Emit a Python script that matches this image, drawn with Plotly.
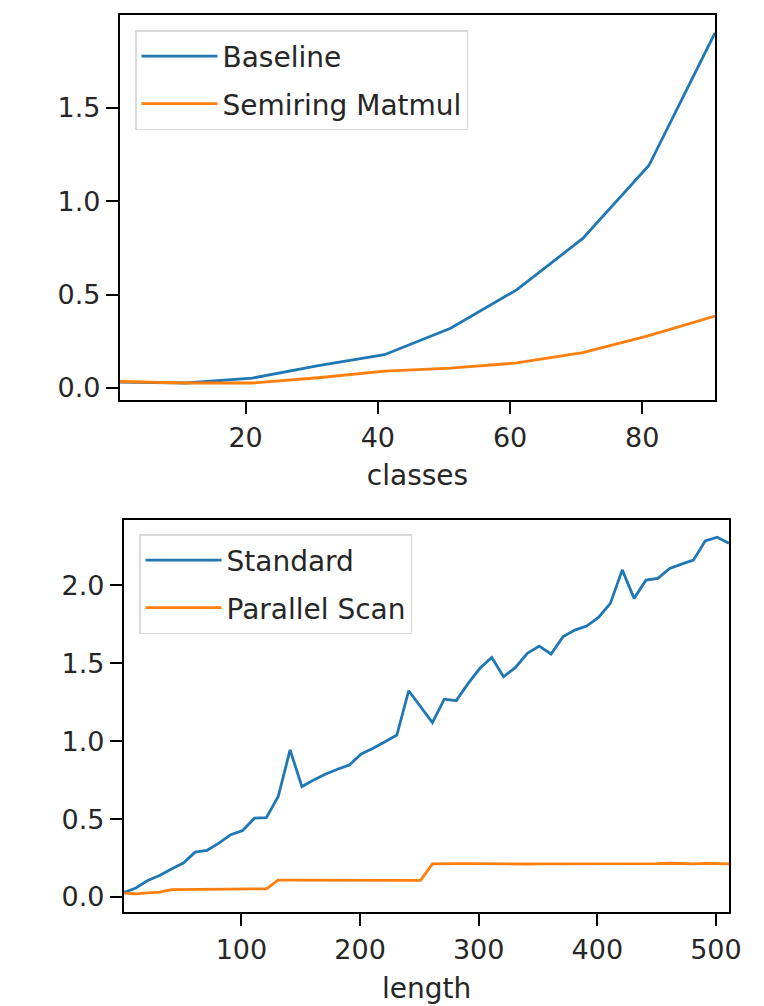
import plotly.graph_objects as go

# ---- data ----
classes = [1, 11, 21, 31, 41, 51, 61, 71, 81, 91]
baseline = [0.032, 0.027, 0.053, 0.12, 0.178, 0.32, 0.525, 0.80, 1.19, 1.90]
semiring = [0.035, 0.027, 0.027, 0.055, 0.09, 0.107, 0.134, 0.19, 0.28, 0.385]

length = list(range(1, 512, 10))
standard = [0.03, 0.058, 0.106, 0.138, 0.18, 0.218, 0.288, 0.30, 0.346, 0.40,
            0.427, 0.506, 0.51, 0.645, 0.944, 0.709, 0.752, 0.79, 0.82, 0.848,
            0.919, 0.955, 0.997, 1.04, 1.324, 1.22, 1.12, 1.27, 1.26, 1.37,
            1.468, 1.538, 1.414, 1.474, 1.564, 1.611, 1.56, 1.67, 1.713, 1.739,
            1.795, 1.885, 2.10, 1.917, 2.034, 2.045, 2.109, 2.137, 2.162, 2.286,
            2.31, 2.27]
parallel = [0.025, 0.02, 0.027, 0.032, 0.047, 0.048, 0.048, 0.053, 0.053, 0.054,
            0.053, 0.053, 0.053, 0.108, 0.108, 0.108, 0.108, 0.109, 0.111, 0.108,
            0.108, 0.108, 0.108, 0.107, 0.107, 0.107, 0.213, 0.215, 0.215, 0.214,
            0.213, 0.212, 0.211, 0.211, 0.212, 0.213, 0.213, 0.213, 0.213, 0.213,
            0.212, 0.212, 0.212, 0.212, 0.213, 0.214, 0.217, 0.214, 0.213, 0.216,
            0.214, 0.213]

top_xticks = [20, 40, 60, 80]
top_yticks = [0.0, 0.5, 1.0, 1.5]
bot_xticks = [100, 200, 300, 400, 500]
bot_yticks = [0.0, 0.5, 1.0, 1.5, 2.0]

BLUE = "#1f77b4"
ORANGE = "#ff7f0e"
FONT = "DejaVu Sans"
TXT = "#262626"
W, H = 764, 1006

fig = go.Figure()
fig.add_trace(go.Scatter(x=classes, y=baseline, mode="lines", name="Baseline",
                         line=dict(color=BLUE, width=2.8), xaxis="x", yaxis="y",
                         legend="legend", legendgroup="a"))
fig.add_trace(go.Scatter(x=classes, y=semiring, mode="lines", name="Semiring Matmul",
                         line=dict(color=ORANGE, width=2.8), xaxis="x", yaxis="y",
                         legend="legend", legendgroup="b"))
fig.add_trace(go.Scatter(x=length, y=standard, mode="lines", name="Standard",
                         line=dict(color=BLUE, width=2.8), xaxis="x2", yaxis="y2",
                         legend="legend2", legendgroup="c"))
fig.add_trace(go.Scatter(x=length, y=parallel, mode="lines", name="Parallel Scan",
                         line=dict(color=ORANGE, width=2.8), xaxis="x2", yaxis="y2",
                         legend="legend2", legendgroup="d"))

axis_common = dict(showline=True, linecolor="black", linewidth=2.2, mirror=True,
                   ticks="outside", ticklen=12, tickwidth=2.2, tickcolor="black",
                   showgrid=False, zeroline=False, automargin=False,
                   tickfont=dict(family=FONT, size=27, color=TXT))

def px_x(p):
    return p / W

def px_y(p):
    return 1 - p / H

leg_common = dict(xanchor="left", yanchor="top", bgcolor="white",
                  bordercolor="#d9d9d9", borderwidth=1.5, itemwidth=76,
                  font=dict(family=FONT, size=28, color=TXT), tracegroupgap=8)

fig.update_layout(
    width=W, height=H,
    margin=dict(l=0, r=0, t=0, b=0),
    paper_bgcolor="white", plot_bgcolor="white",
    font=dict(family=FONT, color=TXT),
    xaxis=dict(axis_common, domain=[px_x(120), px_x(715)], range=[1, 91],
               tickvals=top_xticks, anchor="y",
               title=dict(text="classes", font=dict(family=FONT, size=28, color=TXT), standoff=14)),
    yaxis=dict(axis_common, domain=[px_y(400), px_y(15)], range=[-0.064, 1.995],
               tickvals=top_yticks, tickformat=".1f", anchor="x"),
    xaxis2=dict(axis_common, domain=[px_x(124), px_x(729)], range=[1, 511],
                tickvals=bot_xticks, anchor="y2",
                title=dict(text="length", font=dict(family=FONT, size=28, color=TXT), standoff=15)),
    yaxis2=dict(axis_common, domain=[px_y(912), px_y(520)], range=[-0.096, 2.42],
                tickvals=bot_yticks, tickformat=".1f", anchor="x2"),
    legend=dict(leg_common, x=px_x(135), y=px_y(30)),
    legend2=dict(leg_common, x=px_x(139), y=px_y(534)),
    showlegend=True,
)

fig.write_html("out.html")
